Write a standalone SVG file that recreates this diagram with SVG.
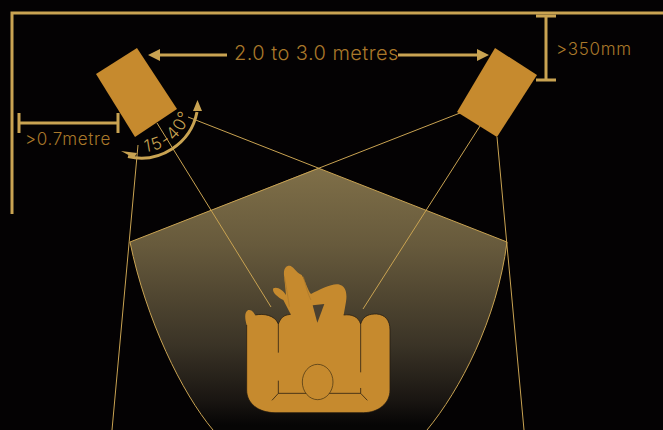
<svg xmlns="http://www.w3.org/2000/svg" width="663" height="430" viewBox="0 0 663 430">
<style>
.gold{fill:#c68a2e}
.dim{stroke:#c9a352;stroke-width:3;fill:none}
.ah{fill:#c9a352}
.thin{stroke:#c9a352;stroke-width:1;fill:none}
text{font-family:"Inter","Open Sans","Liberation Sans",sans-serif;fill:#a9782a;font-weight:300}
</style>
<defs>
<linearGradient id="g" gradientUnits="userSpaceOnUse" x1="0" y1="168" x2="0" y2="425">
<stop offset="0" stop-color="#7f6f48"/><stop offset=".3" stop-color="#675a3c"/><stop offset=".69" stop-color="#3a3326"/><stop offset=".9" stop-color="#1a1612"/><stop offset="1" stop-color="#060505"/>
</linearGradient>
<path id="ap" d="M145 152A51 51 0 0 0 192 101"/>
</defs>
<rect width="663" height="430" fill="#040203"/>
<path id="floor" d="M318 168L507 242C497 320 460 390 427 430H213C182 393 146 320 130 242Z" fill="url(#g)" stroke="none"/>
<g id="connectors">
<path class="thin" d="M213 430C182 393 146 320 130 242M507 242C497 320 460 390 427 430"/>
<path class="thin" d="M138 145L112 430M157 123L271 307M188 117L507 242M460 113L130 242M480 126L363 309M497 137L524 430"/>
<path class="dim" d="M12 214V13H663"/>
<path class="dim" d="M160 55H227M398 55H477"/>
<path class="ah" d="M148 55L160 49V61ZM489 55L477 49V61Z"/>
<path class="dim" d="M19 123H118M19 113V133M118 113V133"/>
<path class="dim" d="M546 16V80M536 16H556M536 80H556"/>
<path class="dim" d="M128 156.500A57 57 0 0 0 197 112"/>
<path class="ah" d="M121 151L137 153L134 158ZM197.500 100L202 111H193Z"/>
</g>
<g id="camera-left"><path class="gold" d="M137 48L96 74L135 137L177 109Z"/></g>
<g id="camera-right"><path class="gold" d="M495 48L537 75L497 137L457 112Z"/></g>
<g id="person" transform="translate(220 250) scale(.33333)">
<path class="gold" d="M80 225C74 205 73 185 85 180C97 178 102 190 106 195C130 190 165 195 175 222C185 195 200 195 212 193L190 150C170 140 155 125 160 115C170 108 190 120 198 135L192 75C190 55 200 45 212 48C222 52 226 65 245 75C255 90 265 125 273 132C300 118 335 100 355 103C378 108 382 130 378 155L371 195C395 192 415 200 422 222C430 195 450 192 470 192C495 194 510 210 510 240V420C510 460 475 488 430 488H165C115 488 80 460 80 420Z"/>
<path d="M278 166L313 162L292 218Z" fill="#4a4030"/>
<path fill="none" stroke="#221a10" stroke-width="3" d="M175 222V308M422 222V367M175 392V430H422V414M175 430L156 451M422 430L442 451M80 225V420C80 460 115 488 165 488H430C475 488 510 460 510 420V240C510 210 495 194 470 192C450 192 430 195 422 222C415 200 395 192 371 195M175 222C165 195 130 190 106 195M212 193C200 195 185 195 175 222" stroke-opacity=".75"/>
<ellipse class="gold" cx="293" cy="396" rx="46" ry="53" stroke="#3a2c12" stroke-width="2"/>
<path fill="none" stroke="#a8752a" stroke-width="2" d="M193 80C200 115 205 150 208 170M250 80C258 110 265 135 273 150"/>
</g>
<g id="labels">
<text x="234" y="60" font-size="20" letter-spacing=".45">2.0 to 3.0 metres</text>
<text x="556" y="55" font-size="17" letter-spacing=".7">&gt;350mm</text>
<text x="25" y="145" font-size="17" letter-spacing=".7">&gt;0.7metre</text>
<text font-size="17" letter-spacing="2" style="fill:#c9a352"><textPath href="#ap">15-40°</textPath></text>
</g>
</svg>
